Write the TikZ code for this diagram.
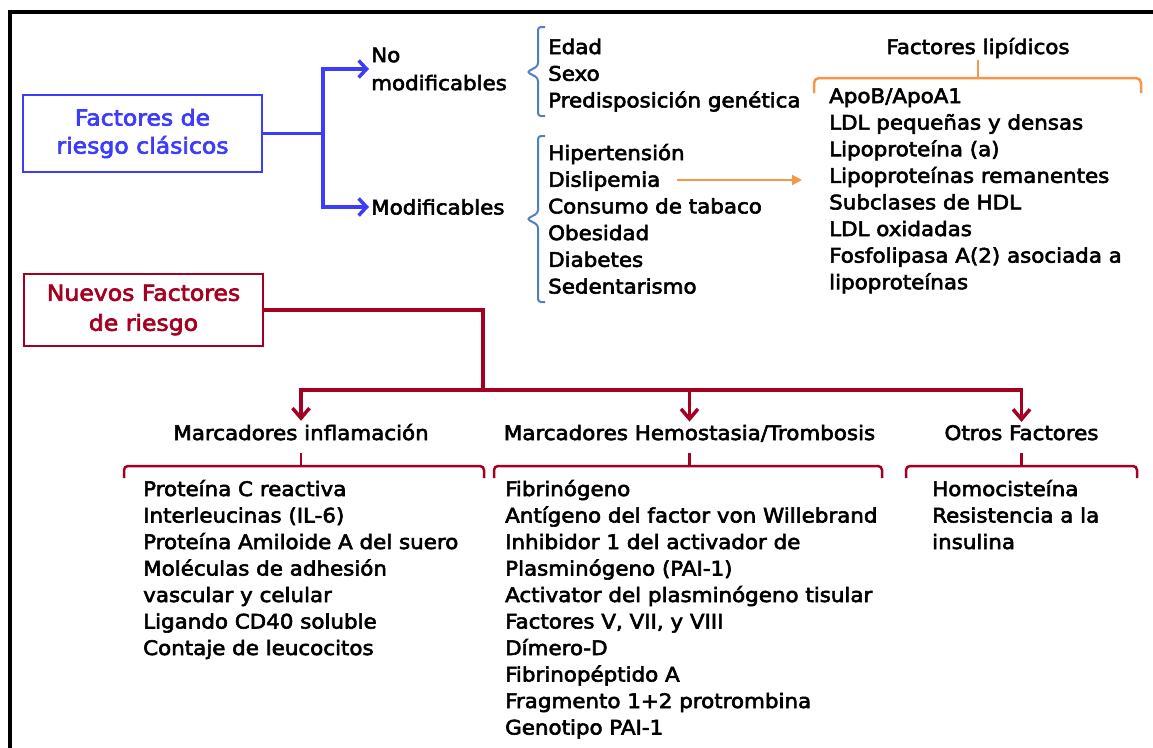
\documentclass[tikz,border=0pt]{standalone}
\usepackage{fontspec}
\setmainfont{DejaVu Sans}[FakeStretch=1.07,FakeBold=3]
\usetikzlibrary{arrows.meta}

\definecolor{clblue}{RGB}{60,60,250}
\definecolor{brblue}{RGB}{79,129,189}
\definecolor{lipor}{RGB}{247,150,70}
\definecolor{nfred}{RGB}{165,0,33}

% lists are anchored at the baseline of their last line
\tikzset{
  txt/.style={font=\fontsize{20}{26.6}\selectfont, inner sep=0pt, align=left, anchor=base west},
  head/.style={font=\fontsize{20}{26.6}\selectfont, inner sep=3pt, anchor=base},
  mainbox/.style={draw, line width=2.5pt, minimum width=239pt, align=center},
  blueline/.style={draw=clblue, line width=3.5pt},
  bluearrow/.style={blueline, -{Straight Barb[length=8pt,width=17pt]}},
  bluebrace/.style={draw=brblue, line width=2pt, rounded corners=3pt},
  orbracket/.style={draw=lipor, line width=2.5pt, rounded corners=5pt},
  orarrow/.style={draw=lipor, line width=2pt, -{Triangle[length=10pt,width=10pt]}},
  redline/.style={draw=nfred, line width=3.5pt},
  redarrow/.style={redline, -{Straight Barb[length=10pt,width=17pt]}},
  redbracket/.style={draw=nfred, line width=2.5pt, rounded corners=4pt},
}

\begin{document}
\begin{tikzpicture}[x=1pt,y=-1pt]
\useasboundingbox (0,0) rectangle (1153,747);
\clip (0,0) rectangle (1153,747);
\fill[white] (0,0) rectangle (1153,747);

% outer frame
\draw[line width=3.5pt] (10,770) -- (10,12) -- (1170,12);

% classic risk factors
\node[mainbox, draw=clblue, text=clblue, minimum height=77pt,
      font=\fontsize{22}{28}\selectfont] (clasicos) at (142.5,133.5) {Factores de\\riesgo clásicos};
\node[txt, font=\fontsize{20}{28}\selectfont, anchor=west, inner sep=2pt] (nomod) at (369,69) {No\\modificables};
\node[txt, anchor=west, inner sep=2pt] (mod) at (369,207) {Modificables};

\coordinate (bsplit) at (323,133.5);
\draw[blueline] (clasicos.east) -- (bsplit);
\draw[bluearrow] (bsplit) |- (nomod.west);
\draw[bluearrow] (bsplit) |- (mod.west);

% lists of classic factors
\node[txt, font=\fontsize{20}{26.7}\selectfont] (fijos) at (548,107.4) {Edad\\Sexo\\Predisposición genética};
\node[txt, font=\fontsize{20}{26.7}\selectfont] (modlist) at (548,293.5) {Hipertensión\\Dislipemia\\Consumo de tabaco\\Obesidad\\Diabetes\\Sedentarismo};

\draw[bluebrace] (545,27) -- (538,27) -- (538,66) -- (527,72) -- (538,78) -- (538,116) -- (545,116);
\draw[bluebrace] (545,136) -- (538,136) -- (538,213) -- (527,219) -- (538,225) -- (538,302) -- (545,302);

% lipid factors
\node[head, inner sep=0pt] (liphead) at (978,54) {Factores lipídicos};
\draw[orbracket] (814,93) -- (814,78) -- (1141,78) -- (1141,93);
\draw[draw=lipor, line width=2.5pt] (978,78) -- (978,60);
\node[txt] (liplist) at (829,289.2) {ApoB/ApoA1\\LDL pequeñas y densas\\Lipoproteína (a)\\Lipoproteínas remanentes\\Subclases de HDL\\LDL oxidadas\\Fosfolipasa A(2) asociada a\\lipoproteínas};

\coordinate (dislend) at (677,180);
\coordinate (lipin) at (802,180);
\draw[orarrow] (dislend) -- (lipin);

% new risk factors
\node[mainbox, draw=nfred, text=nfred, minimum height=72pt,
      font=\fontsize{22}{30}\selectfont] (nuevos) at (143.5,310) {Nuevos Factores\\de riesgo};

\node[head] (inflam) at (301,440) {Marcadores inflamación};
\node[head] (hemo) at (689.5,440) {Marcadores Hemostasia/Trombosis};
\node[head] (otros) at (1021.5,440) {Otros Factores};

\coordinate (rsplit) at (483,390);
\draw[redline] (nuevos.east) -| (rsplit);
\draw[redarrow] (rsplit) -| (inflam.north);
\draw[redarrow] (rsplit) -| (hemo.north);
\draw[redarrow] (rsplit) -| (otros.north);

\draw[redbracket] (124,478) -- (124,466) -- (484,466) -- (484,478);
\draw[redline, line width=2.5pt] (301,466) -- (301,453);
\draw[redbracket] (494,478) -- (494,466) -- (882,466) -- (882,478);
\draw[redline, line width=2.5pt] (689.5,466) -- (689.5,453);
\draw[redbracket] (906,478) -- (906,466) -- (1137,466) -- (1137,478);
\draw[redline, line width=2.5pt] (1021.5,466) -- (1021.5,453);

\node[txt, font=\fontsize{20}{26.5}\selectfont] (inflist) at (143,655) {Proteína C reactiva\\Interleucinas (IL-6)\\Proteína Amiloide A del suero\\Moléculas de adhesión\\vascular y celular\\Ligando CD40 soluble\\Contaje de leucocitos};
\node[txt, font=\fontsize{20}{26.5}\selectfont] (hemolist) at (505,734.5) {Fibrinógeno\\Antígeno del factor von Willebrand\\Inhibidor 1 del activador de\\Plasminógeno (PAI-1)\\Activator del plasminógeno tisular\\Factores V, VII, y VIII\\Dímero-D\\Fibrinopéptido A\\Fragmento 1+2 protrombina\\Genotipo PAI-1};
\node[txt, font=\fontsize{20}{26.5}\selectfont] (otroslist) at (932,549) {Homocisteína\\Resistencia a la\\insulina};
\end{tikzpicture}
\end{document}
